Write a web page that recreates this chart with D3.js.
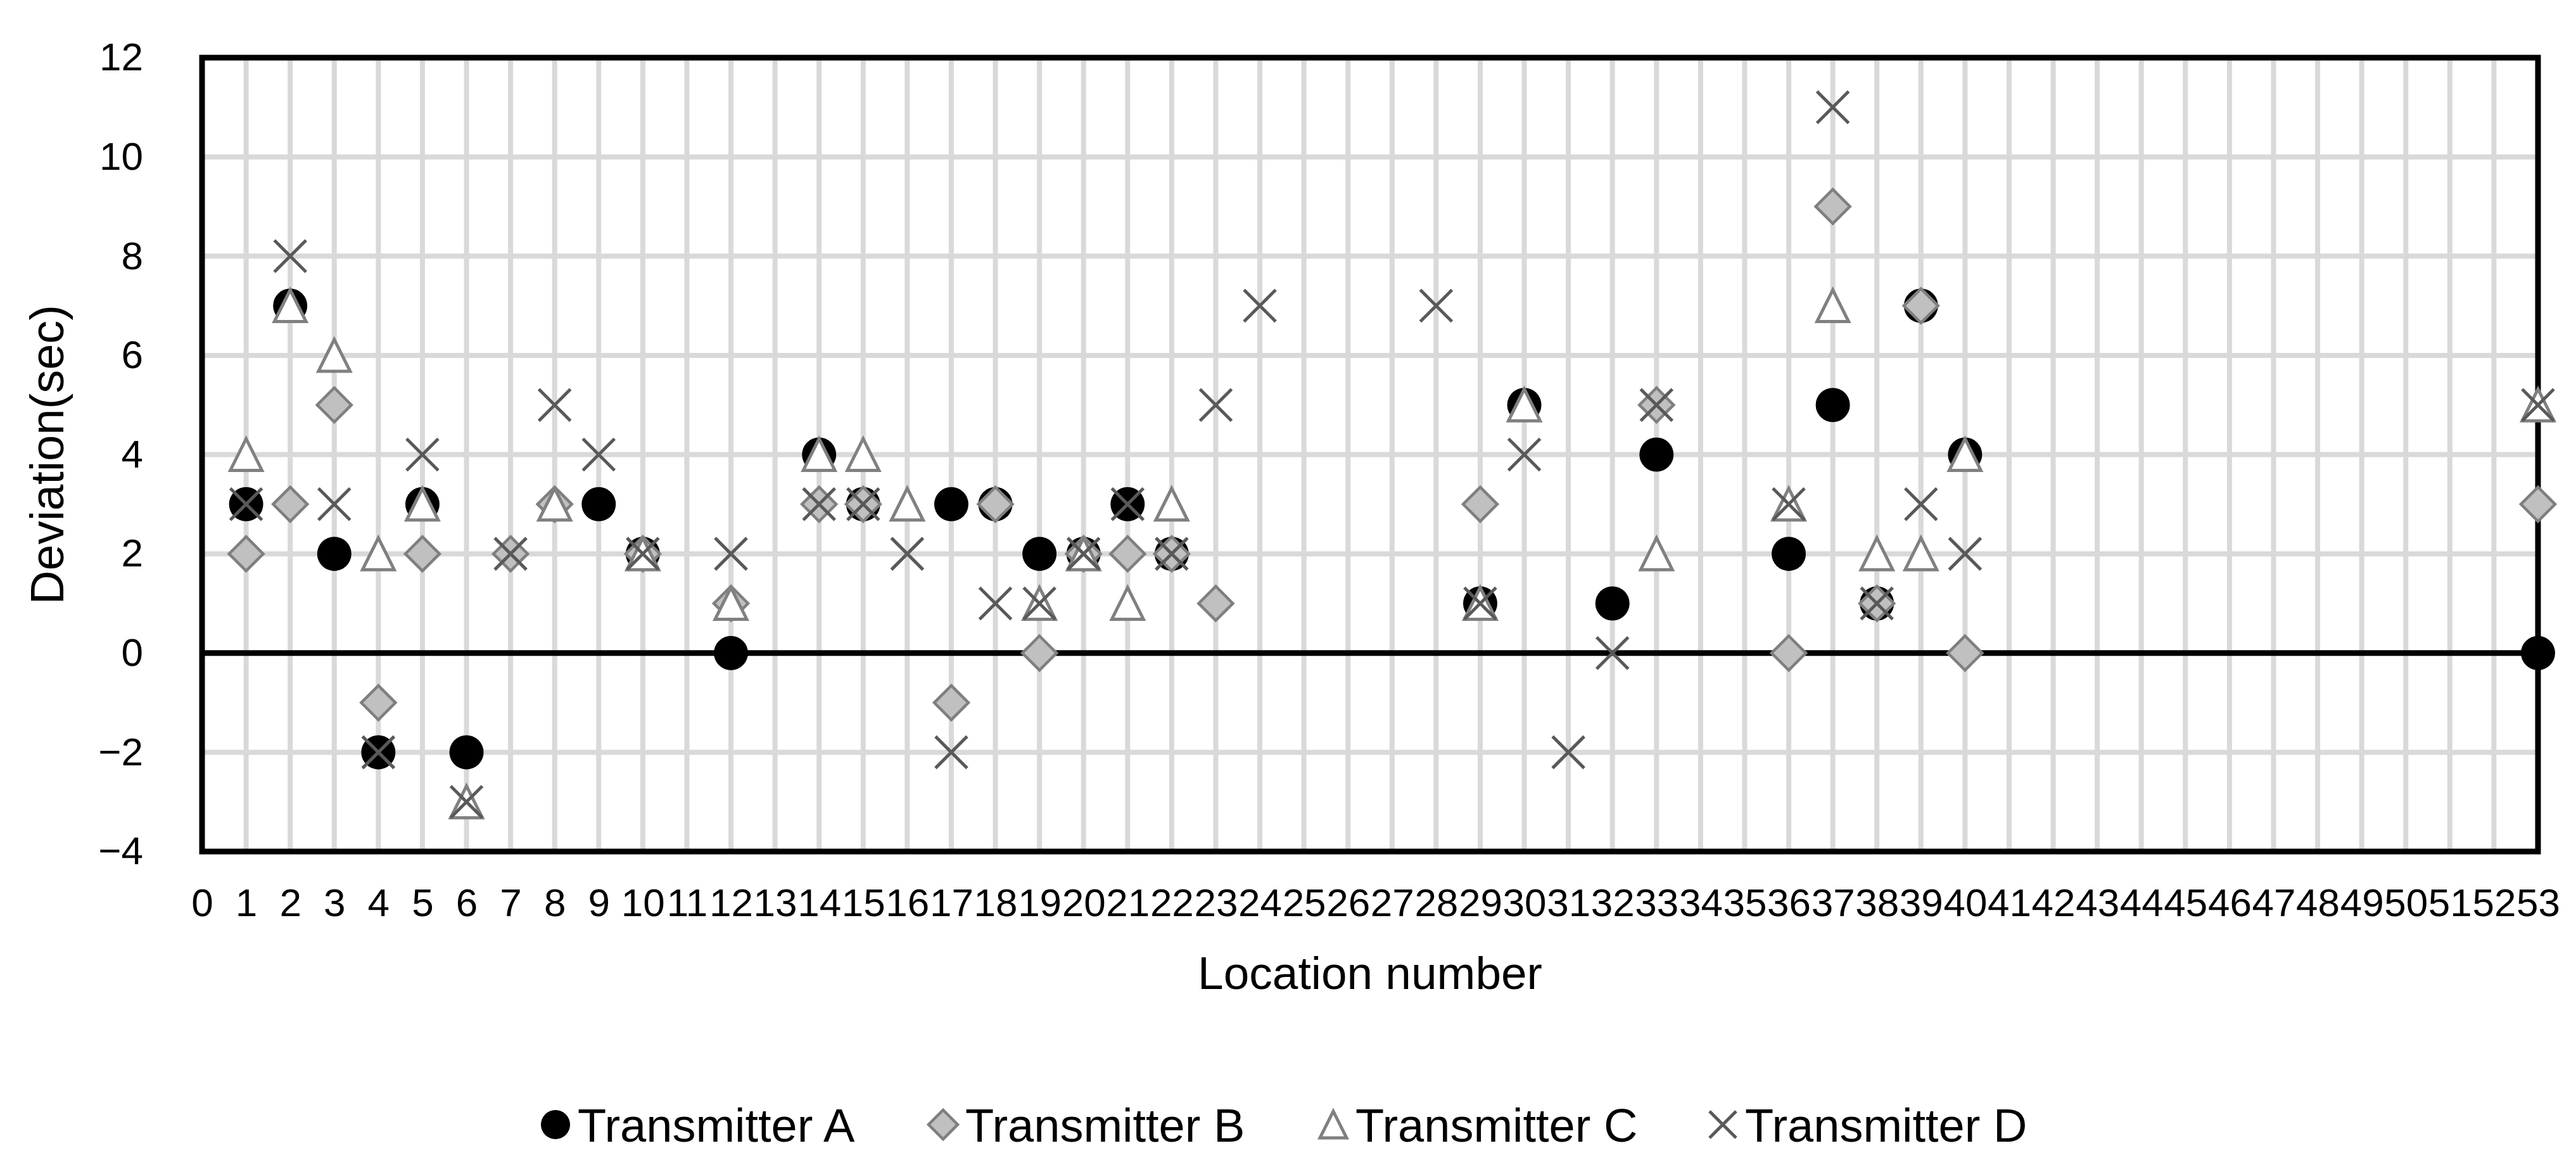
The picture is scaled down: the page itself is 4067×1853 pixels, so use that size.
<!DOCTYPE html>
<html>
<head>
<meta charset="utf-8">
<script src="https://cdn.jsdelivr.net/npm/d3@7"></script>
<style>
  html, body { margin: 0; padding: 0; background: #ffffff; }
  svg { display: block; }
  text { font-family: "Liberation Sans", Arial, "DejaVu Sans", sans-serif; fill: #000; }
</style>
</head>
<body>
<svg id="chart" width="4067" height="1853"></svg>
<script>
// ---- Data ----
const locationTicks = [0,1,2,3,4,5,6,7,8,9,10,11,12,13,14,15,16,17,18,19,20,21,22,23,24,25,26,
  27,28,29,30,31,32,33,34,35,36,37,38,39,40,41,42,43,44,45,46,47,48,49,50,51,52,53];
const deviationTicks = [-4,-2,0,2,4,6,8,10,12];
const seriesNames = ["Transmitter A","Transmitter B","Transmitter C","Transmitter D"];

const locA = [1,2,3,4,5,6,9,10,12,14,15,17,18,19,20,21,22,29,30,32,33,36,37,38,39,40,53];
const devA = [3,7,2,-2,3,-2,3,2,0,4,3,3,3,2,2,3,2,1,5,1,4,2,5,1,7,4,0];

const locB = [1,2,3,4,5,7,8,10,12,14,15,17,18,19,20,21,22,23,29,33,36,37,38,39,40,53];
const devB = [2,3,5,-1,2,2,3,2,1,3,3,-1,3,0,2,2,2,1,3,5,0,9,1,7,0,3];

const locC = [1,2,3,4,5,6,8,10,12,14,15,16,19,20,21,22,29,30,33,36,37,38,39,40,53];
const devC = [4,7,6,2,3,-3,3,2,1,4,4,3,1,2,1,3,1,5,2,3,7,2,2,4,5];

const locD = [1,2,3,4,5,6,7,8,9,10,12,14,15,16,17,18,19,20,21,22,23,24,28,29,30,31,32,33,36,37,38,39,40,53];
const devD = [3,8,3,-2,4,-3,2,5,4,2,2,3,3,2,-2,1,1,2,3,2,5,7,7,1,4,-2,0,5,3,11,1,3,2,5];

// ---- Layout ----
const svg = d3.select("#chart");
const plot = { left: 319, right: 4007, top: 91, bottom: 1344 };

const x = d3.scaleLinear().domain([0, 53]).range([plot.left, plot.right]);
const y = d3.scaleLinear().domain([-4, 12]).range([plot.bottom, plot.top]);

const gridColor = "#d9d9d9";

// grid lines
const grid = svg.append("g");
grid.selectAll("line.v").data(locationTicks.filter(d => d > 0 && d < 53)).enter()
  .append("line")
  .attr("x1", d => x(d)).attr("x2", d => x(d))
  .attr("y1", plot.top).attr("y2", plot.bottom)
  .attr("stroke", gridColor).attr("stroke-width", 8);
grid.selectAll("line.h").data(deviationTicks.filter(d => d > -4 && d < 12 && d !== 0)).enter()
  .append("line")
  .attr("x1", plot.left).attr("x2", plot.right)
  .attr("y1", d => y(d)).attr("y2", d => y(d))
  .attr("stroke", gridColor).attr("stroke-width", 8);

// zero line
svg.append("line")
  .attr("x1", plot.left).attr("x2", plot.right)
  .attr("y1", y(0)).attr("y2", y(0))
  .attr("stroke", "#000").attr("stroke-width", 9);

// plot border
svg.append("rect")
  .attr("x", plot.left).attr("y", plot.top)
  .attr("width", plot.right - plot.left).attr("height", plot.bottom - plot.top)
  .attr("fill", "none").attr("stroke", "#000").attr("stroke-width", 9);

// axes (labels only)
const xAxis = d3.axisBottom(x).tickValues(locationTicks).tickSize(0).tickPadding(58)
  .tickFormat(d3.format("d"));
const gx = svg.append("g").attr("transform", `translate(0,${plot.bottom})`).call(xAxis);
gx.select(".domain").remove();
gx.selectAll("text").style("font-size", "62px").attr("font-family", null);

const yAxis = d3.axisLeft(y).tickValues(deviationTicks).tickSize(0).tickPadding(93)
  .tickFormat(d3.format("d"));
const gy = svg.append("g").attr("transform", `translate(${plot.left},0)`).call(yAxis);
gy.select(".domain").remove();
gy.selectAll("text").style("font-size", "62px").attr("font-family", null);

// axis titles
svg.append("text")
  .attr("x", (plot.left + plot.right) / 2).attr("y", 1561)
  .attr("text-anchor", "middle").style("font-size", "73px")
  .text("Location number");
svg.append("text")
  .attr("transform", `translate(100,${(plot.top + plot.bottom) / 2}) rotate(-90)`)
  .attr("text-anchor", "middle").style("font-size", "74px")
  .text("Deviation(sec)");

// ---- marker drawers ----
const S = 27; // half size
function drawCircle(g, cx, cy, r) {
  g.append("circle").attr("cx", cx).attr("cy", cy).attr("r", r).attr("fill", "#000");
}
function drawDiamond(g, cx, cy, h) {
  g.append("path")
    .attr("d", `M${cx},${cy - h}L${cx + h},${cy}L${cx},${cy + h}L${cx - h},${cy}Z`)
    .attr("fill", "#c0c0c0").attr("stroke", "#7f7f7f").attr("stroke-width", 4.5);
}
function drawTriangle(g, cx, cy, h) {
  g.append("path")
    .attr("d", `M${cx},${cy - h + 2}L${cx + h - 2},${cy + h - 2}L${cx - h + 2},${cy + h - 2}Z`)
    .attr("fill", "#fff").attr("stroke", "#808080").attr("stroke-width", 5)
    .attr("stroke-linejoin", "miter");
}
function drawCross(g, cx, cy, h) {
  g.append("path")
    .attr("d", `M${cx - h + 2},${cy - h + 2}L${cx + h - 2},${cy + h - 2}M${cx + h - 2},${cy - h + 2}L${cx - h + 2},${cy + h - 2}`)
    .attr("fill", "none").attr("stroke", "#595959").attr("stroke-width", 5);
}

const series = [
  { locs: locA, devs: devA, draw: (g, cx, cy, s) => drawCircle(g, cx, cy, s) },
  { locs: locB, devs: devB, draw: (g, cx, cy, s) => drawDiamond(g, cx, cy, s) },
  { locs: locC, devs: devC, draw: (g, cx, cy, s) => drawTriangle(g, cx, cy, s) },
  { locs: locD, devs: devD, draw: (g, cx, cy, s) => drawCross(g, cx, cy, s) }
];

series.forEach(sr => {
  const g = svg.append("g");
  sr.locs.forEach((loc, i) => sr.draw(g, x(loc), y(sr.devs[i]), S));
});

// ---- legend ----
const legendX = [877, 1489, 2105, 2720];
const legendY = 1775;
const lg = svg.append("g");
seriesNames.forEach((name, i) => {
  series[i].draw(lg, legendX[i], legendY, 23);
  lg.append("text")
    .attr("x", legendX[i] + 35).attr("y", 1802)
    .style("font-size", "74px")
    .text(name);
});
</script>
</body>
</html>
